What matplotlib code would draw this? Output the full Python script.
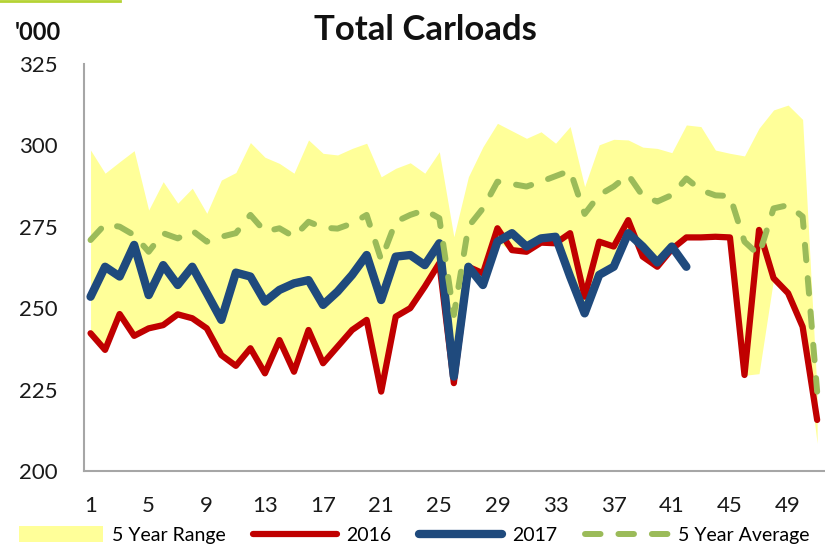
import matplotlib.pyplot as plt
from matplotlib.lines import Line2D
from matplotlib.patches import Patch

plt.rcParams['font.family'] = ['Lato', 'DejaVu Sans']

weeks = list(range(1, 52))

range_high = [298.6, 291.5, 295.0, 298.4, 280.2, 288.9, 282.3, 286.9, 279.2, 289.4,
              291.7, 300.9, 296.4, 294.5, 291.5, 301.7, 297.6, 297.1, 299.1, 300.7,
              290.4, 293.0, 294.7, 291.5, 298.1, 272.0, 290.4, 299.6, 306.8, 304.5,
              302.2, 304.2, 300.7, 305.8, 287.4, 300.2, 301.9, 301.7, 299.5, 299.1,
              297.8, 306.3, 305.8, 298.6, 297.6, 296.8, 305.3, 310.9, 312.4, 308.0,
              224.0]
range_low = [242.0, 237.0, 248.0, 241.5, 243.5, 244.5, 248.0, 246.5, 243.5, 235.5,
             232.0, 237.5, 230.0, 240.0, 230.5, 243.0, 233.0, 238.0, 243.0, 246.0,
             224.5, 247.0, 250.0, 256.5, 263.5, 227.0, 262.5, 257.0, 270.5, 267.5,
             267.0, 270.0, 269.5, 259.5, 248.5, 260.0, 262.5, 272.5, 265.5, 262.5,
             268.0, 271.5, 271.5, 271.5, 271.5, 229.5, 230.0, 259.0, 254.5, 244.0,
             208.6]

y2016 = [242.4, 237.3, 248.3, 241.6, 243.9, 244.9, 248.2, 247.0, 243.9, 235.7,
         232.4, 237.8, 230.1, 240.3, 230.6, 243.4, 233.2, 238.3, 243.4, 246.5,
         224.5, 247.5, 250.1, 256.7, 263.9, 227.1, 262.8, 260.8, 274.6, 267.9,
         267.4, 270.2, 270.0, 273.1, 253.6, 270.5, 269.0, 277.1, 265.9, 262.8,
         268.2, 271.8, 271.8, 272.0, 271.8, 229.6, 274.1, 259.3, 254.7, 244.4,
         215.8]

weeks_2017 = list(range(1, 43))
y2017 = [253.6, 262.8, 259.8, 269.5, 254.1, 263.3, 257.2, 262.8, 254.7, 246.5,
         261.0, 259.8, 252.1, 255.7, 257.7, 258.7, 251.1, 255.2, 260.3, 266.4,
         252.6, 265.9, 266.4, 263.3, 270.0, 229.1, 262.8, 257.2, 270.5, 273.1,
         269.0, 271.5, 272.0, 259.8, 248.5, 260.3, 262.8, 273.1, 269.0, 264.1,
         269.0, 262.8]

avg5 = [271.0, 275.8, 275.1, 272.5, 267.4, 273.1, 271.5, 273.9, 270.5, 272.0,
        273.1, 278.7, 273.6, 274.6, 272.0, 276.6, 274.8, 274.5, 276.1, 278.7,
        264.9, 276.6, 278.7, 280.2, 277.7, 248.0, 275.1, 280.7, 288.9, 288.2,
        287.4, 288.9, 290.6, 292.3, 279.0, 284.8, 287.4, 291.0, 284.5, 282.8,
        284.8, 289.9, 286.3, 284.7, 284.5, 270.5, 266.4, 280.7, 281.7, 278.2,
        224.5]

yellow = '#FFFF99'
red = '#C00000'
blue = '#1F4A7D'
green = '#9BBB59'

fig = plt.figure(figsize=(8.25, 5.46), dpi=100)
ax = fig.add_axes([0.102, 0.1365, 0.898, 0.7463])

ax.fill_between(weeks, range_low, range_high, color=yellow, lw=0)
ax.plot(weeks, y2016, color=red, lw=4.5, solid_capstyle='round', solid_joinstyle='round')
ax.plot(weeks_2017, y2017, color=blue, lw=6, solid_capstyle='round', solid_joinstyle='round')
ax.plot(weeks, avg5, color=green, lw=4.3, dashes=(2.6, 3.0), dash_capstyle='round')

ax.set_xlim(0.56, 51.54)
ax.set_ylim(200, 325)
ax.set_xticks(range(1, 52, 4))
ax.set_yticks(range(200, 326, 25))
for s in ['top', 'right']:
    ax.spines[s].set_visible(False)
for s in ['left', 'bottom']:
    ax.spines[s].set_color('#a6a6a6')
    ax.spines[s].set_linewidth(1.5)
ax.tick_params(length=0, labelsize=16, colors='#1a1a1a')
ax.tick_params(axis='y', pad=19)
ax.tick_params(axis='x', pad=18)

fig.text(0.516, 0.945, 'Total Carloads', ha='center', va='center',
         fontsize=25, fontweight='bold', color='#111111')
fig.text(0.018, 0.94, "'000", ha='left', va='center', fontsize=17,
         fontweight='bold', color='#111111')

# thin green/yellow line at the top left corner
fig.add_artist(Line2D([0, 0.145], [0.998, 0.998], transform=fig.transFigure,
                      color='#b5d334', lw=2))

handles = [Patch(facecolor=yellow, edgecolor='none'),
           Line2D([], [], color=red, lw=4.5, solid_capstyle='round'),
           Line2D([], [], color=blue, lw=6, solid_capstyle='round'),
           Line2D([], [], color=green, lw=4.3, dashes=(2.6, 3.0), dash_capstyle='round')]
labels = ['5 Year Range', '2016', '2017', '5 Year Average']
fig.legend(handles, labels, loc='center', bbox_to_anchor=(0.502, 0.02), ncol=4,
           frameon=False, fontsize=14, handlelength=4.3, handletextpad=0.5,
           columnspacing=1.4, handleheight=0.9, borderaxespad=0)

fig.savefig('out.png', dpi=100)
